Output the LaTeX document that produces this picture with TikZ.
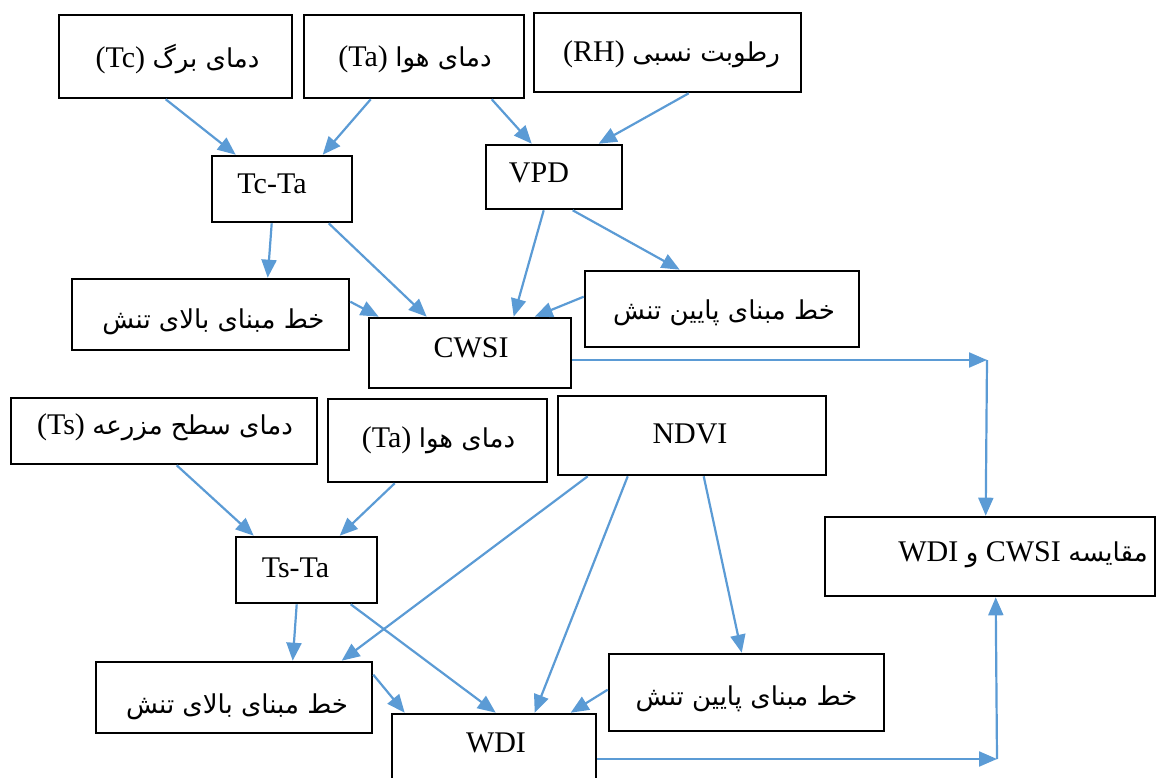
\documentclass[tikz,border=0pt]{standalone}
\usepackage{fontspec}
\setmainfont{Liberation Serif}
\newfontfamily\arfont[Script=Arabic]{DejaVu Sans}
\TeXXeTstate=1
\usetikzlibrary{arrows.meta}
\definecolor{arrowblue}{HTML}{5B9BD5}
\newcommand\fa[1]{{\arfont\fontsize{26}{30}\selectfont\beginR #1\endR}}
\newcommand\off[3]{\raisebox{#2}[\height][\depth]{\kern\dimexpr#1\relax #3\kern-\dimexpr#1\relax}}
\begin{document}
\begin{tikzpicture}[x=1pt,y=-1pt,
  box/.style={draw, line width=2.6pt, inner sep=0pt, font=\fontsize{30}{36}\selectfont},
  arr/.style={draw=arrowblue, line width=2.2pt, -{Triangle[length=18pt,width=15pt]}}]
\useasboundingbox (0,0) rectangle (1157,778);
\clip (0,0) rectangle (1157,778);
% top row
\node[box, minimum width=233pt, minimum height=83pt] (tc) at (175.5,56.5) {\off{2pt}{-3pt}{(Tc) \fa{دمای برگ}}};
\node[box, minimum width=220pt, minimum height=83pt] (ta) at (414,56.5) {\off{1pt}{-3pt}{(Ta) \fa{دمای هوا}}};
\node[box, minimum width=267pt, minimum height=79pt] (rh) at (667.5,52.5) {\off{4pt}{-2pt}{(RH) \fa{رطوبت نسبی}}};
\node[box, minimum width=140pt, minimum height=66pt] (tcta) at (282,189) {\off{-10pt}{5pt}{Tc-Ta}};
\node[box, minimum width=136pt, minimum height=64pt] (vpd) at (554,177) {\off{-15pt}{4pt}{VPD}};
\node[box, minimum width=277pt, minimum height=71pt] (b1) at (210.5,314.5) {\off{3pt}{-7pt}{\fa{خط مبنای بالای تنش}}};
\node[box, minimum width=202pt, minimum height=70pt] (cwsi) at (470,353) {\off{1pt}{5pt}{CWSI}};
\node[box, minimum width=274pt, minimum height=76pt] (p1) at (722,309) {\off{2pt}{-4pt}{\fa{خط مبنای پایین تنش}}};
% bottom part
\node[box, minimum width=306pt, minimum height=66pt] (ts) at (164,431) {\off{1pt}{4pt}{(Ts) \fa{دمای سطح مزرعه}}};
\node[box, minimum width=219pt, minimum height=83pt] (ta2) at (437.5,440.5) {\off{1pt}{0pt}{(Ta) \fa{دمای هوا}}};
\node[box, minimum width=268pt, minimum height=79pt] (ndvi) at (692,435.5) {\off{-2pt}{2pt}{NDVI}};
\node[box, minimum width=330pt, minimum height=79pt] (cmp) at (990,556.5) {\off{33pt}{2pt}{WDI \fa{و} CWSI \fa{مقایسه}}};
\node[box, minimum width=141pt, minimum height=66pt] (tsta) at (306.5,570) {\off{-11pt}{2pt}{Ts-Ta}};
\node[box, minimum width=276pt, minimum height=71pt] (b2) at (234,697.5) {\off{3pt}{-9pt}{\fa{خط مبنای بالای تنش}}};
\node[box, minimum width=204pt, minimum height=70pt] (wdi) at (494,749) {\off{2pt}{6pt}{WDI}};
\node[box, minimum width=275pt, minimum height=77pt] (p2) at (746.5,692.5) {\off{0pt}{-6pt}{\fa{خط مبنای پایین تنش}}};
\coordinate (c1) at (987,360);
\coordinate (c2) at (997,759);
% arrows top
\draw[arr] ([xshift=108pt]tc.south west) -- ([xshift=25pt]tcta.north west);
\draw[arr] ([xshift=68pt]ta.south west) -- ([xshift=112pt]tcta.north west);
\draw[arr] ([xshift=189pt]ta.south west) -- ([xshift=47pt]vpd.north west);
\draw[arr] ([xshift=156pt]rh.south west) -- ([xshift=114pt]vpd.north west);
\draw[arr] ([xshift=61pt]tcta.south west) -- ([xshift=197pt]b1.north west);
\draw[arr] ([xshift=118pt]tcta.south west) -- ([xshift=59pt]cwsi.north west);
\draw[arr] ([yshift=-24pt]b1.north east) -- ([xshift=11pt]cwsi.north west);
\draw[arr] ([xshift=59pt]vpd.south west) -- ([xshift=146pt]cwsi.north west);
\draw[arr] ([xshift=88pt]vpd.south west) -- ([xshift=96pt]p1.north west);
\draw[arr] ([yshift=-27pt]p1.north west) -- ([xshift=167pt]cwsi.north west);
\draw[arr] ([yshift=-7pt]cwsi.east) -- (c1);
\draw[arr] (c1) -- ([xshift=162pt]cmp.north west);
% arrows bottom
\draw[arr] ([xshift=167pt]ts.south west) -- ([xshift=19pt]tsta.north west);
\draw[arr] ([xshift=68pt]ta2.south west) -- ([xshift=105pt]tsta.north west);
\draw[arr] ([xshift=31pt]ndvi.south west) -- ([xshift=247pt]b2.north west);
\draw[arr] ([xshift=71pt]ndvi.south west) -- ([xshift=144pt]wdi.north west);
\draw[arr] ([xshift=147pt]ndvi.south west) -- ([xshift=134pt]p2.north west);
\draw[arr] ([xshift=62pt]tsta.south west) -- ([xshift=198pt]b2.north west);
\draw[arr] ([xshift=116pt]tsta.south west) -- ([xshift=105pt]wdi.north west);
\draw[arr] ([yshift=-14pt]b2.north east) -- ([xshift=14pt]wdi.north west);
\draw[arr] ([yshift=-37pt]p2.north west) -- ([xshift=180pt]wdi.north west);
\draw[arr] ([yshift=-10pt]wdi.east) -- (c2);
\draw[arr] (c2) -- ([xshift=172pt]cmp.south west);
\end{tikzpicture}
\end{document}
